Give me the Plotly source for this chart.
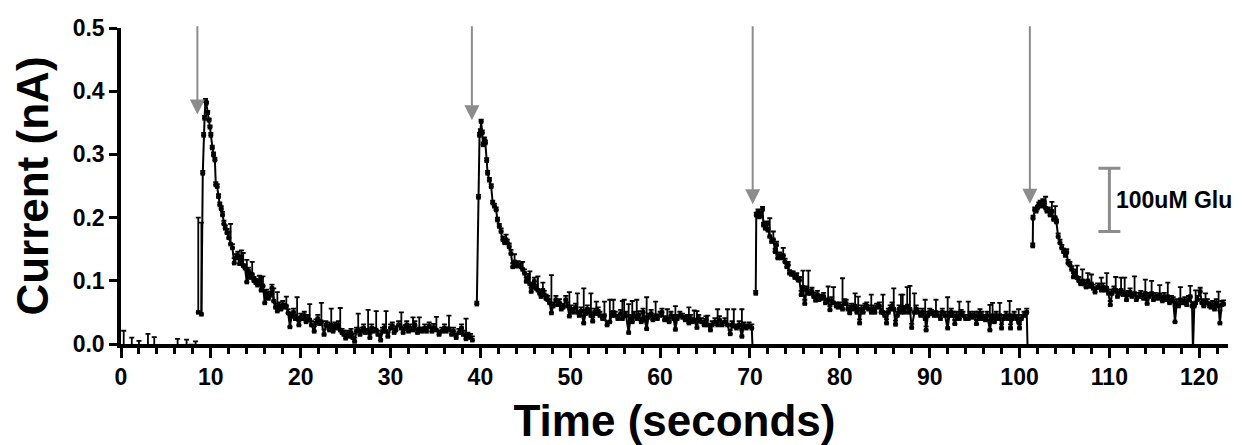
import plotly.graph_objects as go

# // recording: (time s, mean current nA, upper error nA), one list per segment
baseline_pts = [
    (0.3, -0.010, 0.031), (0.8, -0.020, 0.005), (1.2, -0.008, 0.018), (1.6, -0.020, 0.010),
    (2.0, -0.006, 0.011), (2.5, -0.015, 0.008), (3.0, -0.010, 0.026), (3.4, -0.020, 0.008),
    (3.7, -0.008, 0.019), (4.2, -0.004, 0.002), (4.8, -0.020, 0.010), (5.3, -0.025, 0.010),
    (5.8, -0.020, 0.012), (6.3, -0.008, 0.016), (6.8, -0.020, 0.010), (7.3, -0.006, 0.013),
    (7.8, -0.003, 0.002), (8.3, -0.004, 0.008),
]

stim1_pts = [
    (8.6, 0.050, 0.150), (8.95, 0.047, 0.145), (9.1, 0.270, 0.004), (9.2, 0.330, 0.004),
    (9.3, 0.357, 0.004), (9.4, 0.385, 0.003), (9.5, 0.381, 0.003), (9.65, 0.366, 0.003),
    (9.8, 0.354, 0.003), (9.9, 0.343, 0.003), (10.0, 0.330, 0.004), (10.15, 0.310, 0.004),
    (10.3, 0.299, 0.004), (10.45, 0.291, 0.004), (10.55, 0.252, 0.004), (10.7, 0.249, 0.004),
    (10.85, 0.233, 0.004), (11.0, 0.220, 0.004), (11.15, 0.214, 0.004), (11.3, 0.204, 0.005),
    (11.45, 0.190, 0.005), (11.6, 0.183, 0.005), (11.8, 0.176, 0.006), (12.0, 0.168, 0.010),
    (12.2, 0.158, 0.032), (12.4, 0.152, 0.006), (12.6, 0.128, 0.008), (12.8, 0.136, 0.006),
    (13.0, 0.140, 0.006), (13.2, 0.127, 0.008), (13.4, 0.138, 0.010), (13.6, 0.124, 0.020),
    (13.8, 0.120, 0.006), (14.0, 0.098, 0.035), (14.2, 0.115, 0.006), (14.4, 0.105, 0.008),
    (14.6, 0.110, 0.020), (14.8, 0.100, 0.006), (15.0, 0.097, 0.006), (15.2, 0.093, 0.006),
    (15.4, 0.100, 0.008), (15.6, 0.085, 0.020), (15.8, 0.092, 0.015), (16.0, 0.065, 0.020),
    (16.2, 0.080, 0.006), (16.4, 0.072, 0.006), (16.6, 0.077, 0.006), (16.8, 0.088, 0.006),
    (17.0, 0.068, 0.020), (17.2, 0.058, 0.006), (17.4, 0.052, 0.030), (17.6, 0.060, 0.006),
    (17.8, 0.055, 0.006), (18.0, 0.062, 0.006), (18.2, 0.058, 0.006), (18.4, 0.060, 0.015),
    (18.6, 0.049, 0.006), (18.8, 0.027, 0.020), (19.0, 0.044, 0.006), (19.2, 0.050, 0.006),
    (19.4, 0.040, 0.006), (19.6, 0.041, 0.033), (19.8, 0.030, 0.006), (20.0, 0.042, 0.006),
    (20.2, 0.040, 0.006), (20.4, 0.045, 0.006), (20.6, 0.035, 0.006), (20.8, 0.040, 0.006),
    (21.0, 0.038, 0.025), (21.2, 0.030, 0.006), (21.5, 0.020, 0.008), (21.7, 0.033, 0.006),
    (21.9, 0.040, 0.006), (22.1, 0.032, 0.006), (22.3, 0.035, 0.030), (22.6, 0.015, 0.008),
    (22.8, 0.030, 0.006), (23.0, 0.028, 0.006), (23.2, 0.022, 0.006), (23.4, 0.030, 0.026),
    (23.6, 0.020, 0.006), (23.8, 0.028, 0.006), (24.0, 0.025, 0.006), (24.2, 0.030, 0.006),
    (24.4, 0.022, 0.035), (24.6, 0.018, 0.006), (24.8, 0.015, 0.006), (25.0, 0.009, 0.006),
    (25.2, 0.015, 0.006), (25.4, 0.012, 0.006), (25.6, 0.018, 0.006), (25.8, 0.010, 0.006),
    (26.0, 0.004, 0.006), (26.2, 0.020, 0.006), (26.4, 0.022, 0.026), (26.6, 0.015, 0.006),
    (26.8, 0.020, 0.006), (27.0, 0.025, 0.006), (27.2, 0.018, 0.006), (27.5, 0.020, 0.034),
    (27.7, 0.010, 0.006), (27.9, 0.025, 0.006), (28.1, 0.020, 0.006), (28.4, 0.022, 0.030),
    (28.6, 0.015, 0.006), (28.9, 0.006, 0.010), (29.1, 0.020, 0.006), (29.3, 0.025, 0.006),
    (29.5, 0.020, 0.032), (29.7, 0.012, 0.006), (30.0, 0.025, 0.006), (30.2, 0.028, 0.006),
    (30.4, 0.018, 0.006), (30.6, 0.022, 0.006), (30.9, 0.030, 0.006), (31.2, 0.025, 0.025),
    (31.4, 0.018, 0.006), (31.6, 0.024, 0.006), (31.8, 0.030, 0.006), (32.0, 0.020, 0.006),
    (32.2, 0.025, 0.006), (32.5, 0.022, 0.020), (32.7, 0.030, 0.006), (33.0, 0.018, 0.006),
    (33.2, 0.024, 0.018), (33.5, 0.020, 0.006), (33.8, 0.025, 0.006), (34.0, 0.020, 0.006),
    (34.3, 0.028, 0.006), (34.6, 0.020, 0.006), (34.8, 0.026, 0.006), (35.1, 0.022, 0.021),
    (35.4, 0.015, 0.006), (35.7, 0.020, 0.006), (36.0, 0.025, 0.006), (36.2, 0.020, 0.006),
    (36.5, 0.024, 0.021), (36.8, 0.015, 0.006), (37.0, 0.020, 0.006), (37.3, 0.010, 0.006),
    (37.6, 0.018, 0.006), (37.9, 0.025, 0.006), (38.1, 0.015, 0.006), (38.4, 0.008, 0.032),
    (38.6, 0.012, 0.006), (38.9, 0.010, 0.006), (39.1, 0.006, 0.006),
]

stim2_pts = [
    (39.6, 0.063, 0.004), (39.78, 0.232, 0.004), (39.9, 0.330, 0.004), (40.0, 0.336, 0.004),
    (40.08, 0.352, 0.003), (40.2, 0.334, 0.004), (40.3, 0.315, 0.004), (40.45, 0.323, 0.004),
    (40.55, 0.318, 0.004), (40.7, 0.290, 0.004), (40.8, 0.270, 0.004), (41.0, 0.259, 0.004),
    (41.2, 0.249, 0.004), (41.37, 0.223, 0.004), (41.55, 0.218, 0.004), (41.75, 0.212, 0.004),
    (41.9, 0.196, 0.004), (42.1, 0.186, 0.004), (42.3, 0.178, 0.005), (42.5, 0.165, 0.005),
    (42.7, 0.160, 0.005), (42.85, 0.165, 0.008), (43.0, 0.160, 0.005), (43.2, 0.154, 0.005),
    (43.4, 0.143, 0.006), (43.6, 0.122, 0.006), (43.8, 0.130, 0.012), (44.0, 0.123, 0.006),
    (44.2, 0.125, 0.006), (44.5, 0.122, 0.006), (44.7, 0.118, 0.012), (44.9, 0.112, 0.006),
    (45.1, 0.099, 0.006), (45.3, 0.105, 0.006), (45.5, 0.095, 0.020), (45.65, 0.083, 0.006),
    (45.85, 0.090, 0.006), (46.0, 0.099, 0.006), (46.2, 0.088, 0.006), (46.4, 0.085, 0.022),
    (46.6, 0.080, 0.006), (46.75, 0.075, 0.006), (46.95, 0.085, 0.012), (47.1, 0.078, 0.006),
    (47.3, 0.072, 0.006), (47.5, 0.070, 0.006), (47.7, 0.065, 0.006), (47.9, 0.049, 0.060),
    (48.1, 0.060, 0.006), (48.4, 0.070, 0.006), (48.6, 0.062, 0.006), (48.8, 0.065, 0.006),
    (49.0, 0.055, 0.006), (49.2, 0.058, 0.006), (49.5, 0.070, 0.006), (49.7, 0.060, 0.006),
    (49.9, 0.044, 0.038), (50.1, 0.055, 0.006), (50.3, 0.050, 0.006), (50.6, 0.058, 0.006),
    (50.8, 0.050, 0.030), (51.0, 0.045, 0.006), (51.2, 0.052, 0.006), (51.5, 0.033, 0.055),
    (51.7, 0.048, 0.006), (51.9, 0.055, 0.006), (52.1, 0.050, 0.006), (52.3, 0.045, 0.035),
    (52.5, 0.036, 0.006), (52.7, 0.050, 0.006), (52.9, 0.048, 0.019), (53.1, 0.052, 0.006),
    (53.3, 0.045, 0.006), (53.6, 0.040, 0.006), (53.8, 0.045, 0.022), (54.1, 0.030, 0.006),
    (54.4, 0.035, 0.035), (54.6, 0.045, 0.006), (54.8, 0.050, 0.020), (55.0, 0.045, 0.006),
    (55.3, 0.040, 0.006), (55.6, 0.048, 0.006), (55.8, 0.040, 0.028), (56.0, 0.045, 0.025),
    (56.2, 0.045, 0.006), (56.5, 0.018, 0.045), (56.7, 0.040, 0.006), (56.9, 0.035, 0.033),
    (57.1, 0.045, 0.006), (57.4, 0.040, 0.030), (57.6, 0.046, 0.006), (57.9, 0.035, 0.006),
    (58.1, 0.050, 0.006), (58.3, 0.038, 0.006), (58.5, 0.024, 0.050), (58.7, 0.042, 0.006),
    (59.0, 0.048, 0.006), (59.2, 0.038, 0.006), (59.5, 0.045, 0.022), (59.7, 0.040, 0.006),
    (60.0, 0.045, 0.006), (60.2, 0.050, 0.006), (60.5, 0.038, 0.006), (60.8, 0.040, 0.015),
    (61.0, 0.035, 0.006), (61.2, 0.045, 0.006), (61.5, 0.040, 0.006), (61.7, 0.023, 0.037),
    (61.9, 0.040, 0.006), (62.2, 0.045, 0.006), (62.5, 0.042, 0.006), (62.8, 0.038, 0.006),
    (63.0, 0.040, 0.006), (63.2, 0.033, 0.025), (63.4, 0.040, 0.006), (63.6, 0.035, 0.006),
    (63.8, 0.038, 0.015), (64.1, 0.026, 0.026), (64.3, 0.040, 0.006), (64.6, 0.035, 0.006),
    (64.9, 0.030, 0.006), (65.1, 0.038, 0.006), (65.3, 0.030, 0.015), (65.6, 0.022, 0.006),
    (65.8, 0.030, 0.006), (66.1, 0.035, 0.006), (66.4, 0.030, 0.025), (66.6, 0.038, 0.006),
    (66.9, 0.030, 0.006), (67.2, 0.035, 0.006), (67.5, 0.030, 0.025), (67.8, 0.016, 0.006),
    (68.0, 0.030, 0.006), (68.2, 0.028, 0.027), (68.5, 0.025, 0.006), (68.8, 0.030, 0.006),
    (69.1, 0.012, 0.043), (69.3, 0.028, 0.006), (69.6, 0.025, 0.006), (69.9, 0.028, 0.006),
    (70.2, 0.025, 0.006), (70.3, -0.010, 0.000),
]

stim3_pts = [
    (70.64, 0.080, 0.004), (70.7, 0.204, 0.004), (70.9, 0.209, 0.004), (71.05, 0.201, 0.004),
    (71.2, 0.205, 0.004), (71.4, 0.213, 0.004), (71.5, 0.188, 0.004), (71.7, 0.183, 0.004),
    (71.85, 0.190, 0.004), (72.0, 0.180, 0.004), (72.2, 0.170, 0.029), (72.4, 0.162, 0.005),
    (72.6, 0.165, 0.013), (72.8, 0.146, 0.005), (72.95, 0.157, 0.005), (73.1, 0.136, 0.005),
    (73.3, 0.140, 0.005), (73.5, 0.136, 0.005), (73.7, 0.140, 0.012), (73.9, 0.130, 0.005),
    (74.1, 0.122, 0.005), (74.25, 0.125, 0.005), (74.4, 0.112, 0.005), (74.6, 0.110, 0.005),
    (74.8, 0.110, 0.005), (75.0, 0.105, 0.005), (75.2, 0.107, 0.005), (75.35, 0.101, 0.005),
    (75.5, 0.101, 0.005), (75.7, 0.078, 0.006), (75.9, 0.090, 0.026), (76.1, 0.064, 0.006),
    (76.3, 0.085, 0.006), (76.5, 0.080, 0.036), (76.7, 0.080, 0.006), (76.9, 0.083, 0.006),
    (77.1, 0.075, 0.006), (77.3, 0.069, 0.006), (77.5, 0.078, 0.006), (77.7, 0.070, 0.006),
    (78.0, 0.072, 0.006), (78.2, 0.075, 0.006), (78.4, 0.065, 0.006), (78.7, 0.070, 0.021),
    (78.9, 0.054, 0.006), (79.1, 0.068, 0.006), (79.3, 0.065, 0.025), (79.6, 0.060, 0.006),
    (79.8, 0.058, 0.006), (80.0, 0.060, 0.006), (80.3, 0.055, 0.049), (80.5, 0.065, 0.006),
    (80.7, 0.064, 0.006), (80.9, 0.055, 0.006), (81.1, 0.049, 0.006), (81.3, 0.058, 0.006),
    (81.5, 0.055, 0.006), (81.7, 0.060, 0.020), (81.9, 0.050, 0.006), (82.05, 0.055, 0.020),
    (82.2, 0.033, 0.006), (82.4, 0.055, 0.006), (82.6, 0.050, 0.006), (82.8, 0.058, 0.006),
    (83.0, 0.060, 0.006), (83.2, 0.055, 0.006), (83.5, 0.050, 0.028), (83.7, 0.055, 0.006),
    (83.9, 0.050, 0.006), (84.1, 0.058, 0.006), (84.4, 0.060, 0.006), (84.6, 0.050, 0.006),
    (84.8, 0.050, 0.028), (85.0, 0.045, 0.006), (85.2, 0.033, 0.006), (85.4, 0.050, 0.006),
    (85.6, 0.055, 0.006), (85.8, 0.060, 0.006), (86.0, 0.055, 0.033), (86.2, 0.031, 0.006),
    (86.4, 0.045, 0.006), (86.6, 0.055, 0.006), (86.8, 0.050, 0.028), (87.0, 0.058, 0.020),
    (87.2, 0.050, 0.006), (87.5, 0.060, 0.030), (87.7, 0.050, 0.006), (87.8, 0.055, 0.037),
    (88.0, 0.026, 0.006), (88.3, 0.050, 0.030), (88.5, 0.055, 0.006), (88.7, 0.050, 0.006),
    (89.0, 0.045, 0.006), (89.2, 0.050, 0.006), (89.5, 0.040, 0.030), (89.6, 0.022, 0.006),
    (89.8, 0.045, 0.006), (90.0, 0.050, 0.006), (90.2, 0.048, 0.006), (90.5, 0.045, 0.006),
    (90.7, 0.050, 0.020), (90.9, 0.045, 0.006), (91.2, 0.040, 0.006), (91.4, 0.050, 0.006),
    (91.7, 0.045, 0.006), (92.0, 0.025, 0.049), (92.2, 0.045, 0.006), (92.4, 0.050, 0.006),
    (92.6, 0.045, 0.006), (92.8, 0.032, 0.006), (93.0, 0.045, 0.006), (93.3, 0.040, 0.027),
    (93.5, 0.048, 0.006), (93.7, 0.045, 0.006), (94.0, 0.040, 0.006), (94.3, 0.040, 0.027),
    (94.5, 0.045, 0.006), (94.7, 0.042, 0.006), (95.0, 0.045, 0.006), (95.2, 0.032, 0.006),
    (95.4, 0.045, 0.006), (95.6, 0.040, 0.015), (95.8, 0.045, 0.006), (96.0, 0.040, 0.006),
    (96.2, 0.038, 0.006), (96.4, 0.045, 0.006), (96.7, 0.022, 0.040), (96.9, 0.040, 0.006),
    (97.0, 0.045, 0.020), (97.2, 0.035, 0.006), (97.4, 0.045, 0.006), (97.6, 0.040, 0.006),
    (97.8, 0.045, 0.020), (98.0, 0.025, 0.006), (98.2, 0.040, 0.006), (98.5, 0.045, 0.006),
    (98.7, 0.040, 0.006), (98.9, 0.045, 0.023), (99.0, 0.025, 0.006), (99.2, 0.040, 0.006),
    (99.4, 0.045, 0.006), (99.7, 0.040, 0.006), (99.9, 0.035, 0.020), (100.0, 0.025, 0.006),
    (100.2, 0.040, 0.006), (100.5, 0.045, 0.006), (100.8, 0.050, 0.006), (100.9, -0.010, 0.000),
]

stim4_pts = [
    (101.47, 0.155, 0.004), (101.5, 0.199, 0.004), (101.7, 0.212, 0.004), (101.85, 0.210, 0.004),
    (102.0, 0.215, 0.004), (102.15, 0.220, 0.004), (102.3, 0.223, 0.004), (102.45, 0.218, 0.004),
    (102.6, 0.225, 0.004), (102.75, 0.222, 0.004), (102.9, 0.215, 0.018), (103.05, 0.210, 0.004),
    (103.2, 0.212, 0.004), (103.4, 0.204, 0.004), (103.6, 0.210, 0.015), (103.8, 0.197, 0.004),
    (103.97, 0.200, 0.018), (104.1, 0.193, 0.004), (104.3, 0.170, 0.005), (104.5, 0.160, 0.005),
    (104.7, 0.152, 0.005), (104.9, 0.146, 0.005), (105.1, 0.140, 0.005), (105.25, 0.145, 0.005),
    (105.4, 0.128, 0.005), (105.6, 0.125, 0.005), (105.8, 0.118, 0.005), (106.0, 0.106, 0.006),
    (106.2, 0.112, 0.006), (106.4, 0.105, 0.019), (106.6, 0.100, 0.006), (106.8, 0.095, 0.006),
    (107.0, 0.100, 0.018), (107.2, 0.095, 0.006), (107.4, 0.090, 0.006), (107.6, 0.100, 0.012),
    (107.8, 0.091, 0.006), (108.0, 0.095, 0.015), (108.2, 0.088, 0.006), (108.4, 0.082, 0.006),
    (108.7, 0.090, 0.006), (108.9, 0.089, 0.006), (109.1, 0.085, 0.020), (109.3, 0.090, 0.006),
    (109.5, 0.085, 0.006), (109.7, 0.088, 0.024), (109.9, 0.080, 0.006), (110.1, 0.062, 0.006),
    (110.3, 0.080, 0.006), (110.5, 0.085, 0.006), (110.7, 0.085, 0.021), (110.9, 0.075, 0.006),
    (111.1, 0.080, 0.006), (111.3, 0.085, 0.020), (111.5, 0.078, 0.006), (111.7, 0.080, 0.025),
    (111.9, 0.070, 0.006), (112.1, 0.078, 0.006), (112.3, 0.082, 0.006), (112.5, 0.075, 0.006),
    (112.8, 0.080, 0.027), (113.0, 0.070, 0.006), (113.3, 0.075, 0.006), (113.5, 0.078, 0.006),
    (113.8, 0.072, 0.006), (114.0, 0.080, 0.022), (114.2, 0.064, 0.006), (114.4, 0.075, 0.006),
    (114.7, 0.080, 0.020), (114.9, 0.070, 0.006), (115.1, 0.075, 0.006), (115.4, 0.072, 0.006),
    (115.6, 0.078, 0.015), (115.9, 0.068, 0.006), (116.1, 0.075, 0.006), (116.3, 0.070, 0.006),
    (116.5, 0.075, 0.022), (116.7, 0.065, 0.006), (116.9, 0.070, 0.006), (117.1, 0.068, 0.006),
    (117.3, 0.035, 0.030), (117.5, 0.065, 0.006), (117.7, 0.060, 0.006), (117.9, 0.070, 0.020),
    (118.1, 0.065, 0.006), (118.4, 0.068, 0.006), (118.6, 0.062, 0.006), (118.8, 0.070, 0.006),
    (119.0, 0.075, 0.017), (119.2, 0.060, 0.006), (119.3, -0.010, 0.000), (119.45, 0.060, 0.006),
    (119.6, 0.065, 0.020), (119.8, 0.070, 0.006), (120.1, 0.083, 0.006), (120.3, 0.065, 0.006),
    (120.5, 0.060, 0.006), (120.7, 0.068, 0.012), (120.9, 0.065, 0.006), (121.1, 0.060, 0.006),
    (121.3, 0.058, 0.006), (121.5, 0.062, 0.006), (121.7, 0.055, 0.006), (121.9, 0.065, 0.006),
    (122.15, 0.060, 0.023), (122.3, 0.033, 0.020), (122.5, 0.062, 0.006), (122.7, 0.063, 0.006),
]

# // glutamate application: arrow x and tip height
stim_times = [8.5, 39.05, 70.3, 101.15]
stim_tips = [0.363, 0.354, 0.221, 0.222]

# // scale bar (0.1 nA)
scale_x = 110.0
scale_lo, scale_hi = 0.178, 0.278
scale_label = "100uM Glu"

grey = "#8c8c8c"
font_bold = dict(family="Liberation Sans, Arial", color="black", weight="bold")

# // join segments with gaps
xs, ys, es = [], [], []
for seg in [baseline_pts, stim1_pts, stim2_pts, stim3_pts, stim4_pts]:
    for t, v, e in seg:
        xs.append(t)
        ys.append(v)
        es.append(e)
    xs.append(None)
    ys.append(None)
    es.append(None)

fig = go.Figure()

fig.add_trace(go.Scatter(
    x=xs, y=ys, mode="lines+markers",
    line=dict(color="black", width=2),
    marker=dict(symbol="square", size=4.5, color="black"),
    error_y=dict(type="data", array=es, arrayminus=[0] * len(es), symmetric=False,
                 color="black", thickness=1.8, width=2.5),
    connectgaps=False, showlegend=False, hoverinfo="skip"))

# // scale bar as an error bar
mid = (scale_lo + scale_hi) / 2
fig.add_trace(go.Scatter(
    x=[scale_x], y=[mid], mode="markers",
    marker=dict(size=1, color="rgba(0,0,0,0)"),
    error_y=dict(type="data", array=[scale_hi - mid], color=grey, thickness=3, width=11),
    showlegend=False, hoverinfo="skip", cliponaxis=False))

fig.add_annotation(
    text=scale_label, x=scale_x + 0.5, y=mid, xanchor="left", yanchor="middle",
    showarrow=False, font=dict(size=23, **font_bold))

# // arrows
for t, tip in zip(stim_times, stim_tips):
    fig.add_annotation(
        x=t, y=tip, ax=t, ay=0.505, xref="x", yref="y", axref="x", ayref="y",
        text="", showarrow=True, arrowhead=2, arrowsize=1.5, arrowwidth=2,
        arrowcolor=grey, standoff=0)

fig.update_xaxes(
    range=[0, 123.2], showgrid=False, zeroline=False, automargin=False,
    showline=True, linewidth=3.5, linecolor="black",
    ticks="outside", ticklen=10, tickwidth=2.5, tickcolor="black",
    tick0=0, dtick=10,
    minor=dict(ticks="outside", dtick=2, ticklen=6, tickwidth=2.5, tickcolor="black"),
    tickfont=dict(size=23, **font_bold),
    title=dict(text="Time (seconds)", font=dict(size=44, **font_bold), standoff=18))

fig.update_yaxes(
    range=[0, 0.5], showgrid=False, zeroline=False, automargin=False,
    showline=True, linewidth=3.5, linecolor="black",
    ticks="outside", ticklen=8, tickwidth=2.5, tickcolor="black",
    tick0=0, dtick=0.1, tickformat=".1f",
    tickfont=dict(size=23, **font_bold),
    title=dict(text="Current (nA)", font=dict(size=44, **font_bold), standoff=18))

# // page body adds an 8 px offset, so the figure is 8 px smaller and margins shifted
fig.update_layout(
    width=1237, height=437,
    margin=dict(l=113, r=17, t=20, b=101),
    plot_bgcolor="white", paper_bgcolor="white",
    showlegend=False)

fig.write_html("out.html")
